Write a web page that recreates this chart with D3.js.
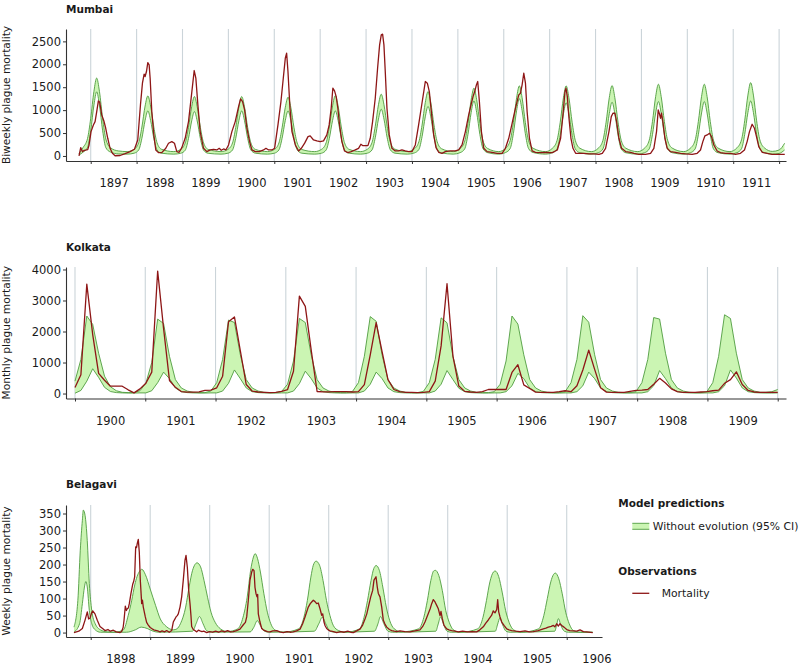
<!DOCTYPE html>
<html><head><meta charset="utf-8">
<script src="https://cdn.jsdelivr.net/npm/d3@7"></script>
<style>body{margin:0;background:#fff} text{font-family:"DejaVu Sans",sans-serif}</style>
</head><body><svg id="c" width="802" height="667"></svg>
<script>
// ---------------- DATA ----------------
// Mumbai: biweekly observed mortality [year, deaths]
const mumbaiObs = [
[1896.745,0],[1896.782,182],[1896.818,95],[1896.862,124],[1896.935,138],[1896.964,240],[1897.007,531],[1897.058,677],[1897.095,750],[1897.131,968],[1897.167,1201],[1897.196,1172],[1897.24,895],[1897.291,750],[1897.327,604],[1897.371,386],[1897.422,167],[1897.473,58],[1897.531,5],[1897.64,10],[1897.749,51],[1897.858,95],[1897.953,146],
[1898.025,349],[1898.084,1114],[1898.127,1587],[1898.164,1784],[1898.185,1733],[1898.215,1842],[1898.244,2038],[1898.273,1987],[1898.295,1696],[1898.331,968],[1898.375,459],[1898.418,131],[1898.476,73],[1898.549,73],[1898.636,167],[1898.695,277],[1898.767,313],[1898.825,277],[1898.876,95],[1898.927,80],[1898.985,182],
[1899.058,386],[1899.131,750],[1899.204,1405],[1899.255,1864],[1899.291,1696],[1899.335,1114],[1899.385,531],[1899.458,167],[1899.531,95],[1899.604,131],[1899.676,146],[1899.749,131],[1899.8,167],[1899.844,124],[1899.895,153],[1899.945,131],
[1900.004,240],[1900.076,531],[1900.149,750],[1900.222,1077],[1900.265,1245],[1900.309,1187],[1900.353,1005],[1900.404,604],[1900.462,313],[1900.513,131],[1900.585,95],[1900.673,95],[1900.767,131],[1900.818,167],[1900.876,131],[1900.949,131],
[1901.007,167],[1901.08,677],[1901.145,1187],[1901.196,1696],[1901.24,2133],[1901.269,2242],[1901.298,1842],[1901.342,1041],[1901.385,531],[1901.458,240],[1901.531,109],[1901.589,167],[1901.662,280],[1901.735,422],[1901.782,437],[1901.855,349],[1901.927,328],
[1902.0,313],[1902.073,328],[1902.145,459],[1902.196,677],[1902.24,1041],[1902.276,1478],[1902.313,1420],[1902.349,1296],[1902.385,1041],[1902.422,677],[1902.473,313],[1902.531,109],[1902.604,73],[1902.676,95],[1902.764,131],[1902.836,167],[1902.887,255],[1902.924,226],[1902.982,226],
[1903.04,226],[1903.091,386],[1903.142,750],[1903.2,1259],[1903.251,1915],[1903.295,2424],[1903.331,2643],[1903.36,2657],[1903.389,2424],[1903.418,1842],[1903.455,1041],[1903.505,459],[1903.564,167],[1903.636,109],[1903.709,109],[1903.782,131],[1903.855,109],[1903.927,95],
[1904.0,95],[1904.073,240],[1904.145,677],[1904.218,1150],[1904.269,1478],[1904.291,1624],[1904.335,1587],[1904.378,1405],[1904.422,968],[1904.473,459],[1904.524,182],[1904.582,80],[1904.655,58],[1904.727,95],[1904.836,109],[1904.945,109],
[1905.018,131],[1905.091,240],[1905.164,531],[1905.236,895],[1905.295,1150],[1905.331,1296],[1905.367,1405],[1905.404,1551],[1905.433,1624],[1905.469,1187],[1905.513,531],[1905.564,167],[1905.636,95],[1905.745,80],[1905.855,58],[1905.964,58],
[1906.036,167],[1906.109,386],[1906.182,713],[1906.255,1041],[1906.327,1332],[1906.364,1369],[1906.4,1551],[1906.436,1805],[1906.473,1587],[1906.509,968],[1906.56,386],[1906.618,109],[1906.691,80],[1906.8,73],[1906.913,80],
[1907.058,73],[1907.167,131],[1907.239,386],[1907.29,895],[1907.334,1405],[1907.356,1478],[1907.385,1296],[1907.421,823],[1907.464,386],[1907.508,167],[1907.566,58],[1907.639,58],[1907.747,58],[1907.856,44],[1907.965,44],
[1908.074,36],[1908.147,58],[1908.219,167],[1908.292,531],[1908.343,859],[1908.379,932],[1908.422,932],[1908.459,750],[1908.509,386],[1908.567,167],[1908.655,95],[1908.763,80],[1908.836,58],[1908.945,36],
[1909.09,36],[1909.199,58],[1909.271,167],[1909.329,531],[1909.366,1005],[1909.395,910],[1909.417,823],[1909.438,932],[1909.467,750],[1909.511,386],[1909.562,167],[1909.634,95],[1909.743,80],[1909.852,58],[1909.961,44],
[1910.106,36],[1910.215,58],[1910.287,131],[1910.338,313],[1910.382,437],[1910.432,459],[1910.483,495],[1910.527,422],[1910.578,240],[1910.65,109],[1910.723,73],[1910.832,58],[1910.941,58],
[1911.049,36],[1911.158,58],[1911.245,131],[1911.303,313],[1911.354,531],[1911.412,692],[1911.463,604],[1911.507,422],[1911.557,204],[1911.63,80],[1911.739,58],[1911.848,36],[1911.993,36],[1912.123,36]
];
// Mumbai model band [year, lower, upper]
const mumbaiBand = [
[1896.745,20,50],[1896.83,80,180],[1896.93,180,380],[1897.0,550,820],[1897.07,1110,1410],[1897.13,1400,1700],[1897.19,1110,1410],[1897.26,550,820],[1897.33,180,370],[1897.43,85,180],[1897.6,45,110],
[1897.795,40,95],[1897.945,60,145],[1898.045,130,290],[1898.115,385,630],[1898.185,775,1090],[1898.245,983,1310],[1898.305,775,1090],[1898.375,385,630],[1898.445,130,290],[1898.545,60,145],
[1898.81,40,95],[1898.96,58,143],[1899.06,126,285],[1899.13,378,620],[1899.20,765,1075],[1899.26,968,1296],[1899.32,765,1075],[1899.39,378,620],[1899.46,126,285],[1899.56,58,143],
[1899.84,40,95],[1899.99,60,143],[1900.09,130,285],[1900.16,385,620],[1900.23,775,1075],[1900.29,983,1296],[1900.35,775,1075],[1900.42,385,620],[1900.49,130,285],[1900.59,60,143],
[1900.85,40,95],[1901.00,60,141],[1901.10,130,282],[1901.17,385,615],[1901.24,775,1063],[1901.30,983,1281],[1901.36,775,1063],[1901.43,385,615],[1901.50,130,282],[1901.60,60,141],
[1901.88,40,95],[1902.03,60,145],[1902.13,130,290],[1902.20,385,633],[1902.27,775,1094],[1902.33,983,1318],[1902.39,775,1094],[1902.46,385,633],[1902.53,130,290],[1902.63,60,145],
[1902.88,40,95],[1903.03,61,148],[1903.13,132,296],[1903.20,397,647],[1903.27,805,1118],[1903.33,1019,1347],[1903.39,805,1118],[1903.46,397,647],[1903.53,132,296],[1903.63,61,148],
[1903.90,40,95],[1904.05,65,155],[1904.15,140,309],[1904.22,421,674],[1904.29,853,1166],[1904.35,1080,1405],[1904.41,853,1166],[1904.48,421,674],[1904.55,140,309],[1904.65,65,155],
[1904.90,40,95],[1905.05,72,163],[1905.15,156,325],[1905.22,468,709],[1905.29,948,1227],[1905.35,1200,1478],[1905.41,948,1227],[1905.48,468,709],[1905.55,156,325],[1905.65,72,163],
[1905.89,40,95],[1906.04,75,168],[1906.14,163,336],[1906.21,488,734],[1906.28,988,1269],[1906.34,1250,1529],[1906.40,988,1269],[1906.47,488,734],[1906.54,163,336],[1906.64,75,168],
[1906.91,40,95],[1907.06,70,168],[1907.16,151,336],[1907.23,452,734],[1907.30,916,1269],[1907.36,1160,1529],[1907.42,916,1269],[1907.49,452,734],[1907.56,151,336],[1907.66,70,168],
[1907.91,40,95],[1908.06,70,169],[1908.16,152,338],[1908.23,457,737],[1908.30,926,1275],[1908.36,1172,1536],[1908.42,926,1275],[1908.49,457,737],[1908.56,152,338],[1908.66,70,169],
[1908.92,40,95],[1909.07,71,172],[1909.17,154,344],[1909.24,463,751],[1909.31,938,1299],[1909.37,1187,1565],[1909.43,938,1299],[1909.50,463,751],[1909.57,154,344],[1909.67,71,172],
[1909.92,40,95],[1910.07,71,172],[1910.17,154,344],[1910.24,463,751],[1910.31,938,1299],[1910.37,1187,1565],[1910.43,938,1299],[1910.50,463,751],[1910.57,154,344],[1910.67,71,172],
[1910.93,40,95],[1911.08,72,176],[1911.18,156,352],[1911.25,468,768],[1911.32,948,1328],[1911.38,1200,1600],[1911.44,948,1328],[1911.51,468,768],[1911.58,156,352],[1911.68,72,176],
[1911.85,40,100],[1912.0,55,130],[1912.12,131,277]
];
const mumbaiTickYears = [1897,1898,1899,1900,1901,1902,1903,1904,1905,1906,1907,1908,1909,1910,1911,1912];
const mumbaiLabelYears = [1897,1898,1899,1900,1901,1902,1903,1904,1905,1906,1907,1908,1909,1910,1911];
const mumbaiYTicks = [0,500,1000,1500,2000,2500];

// Kolkata: monthly values Jan 1900 .. Dec 1909
const kolkataObs = [
195,605,3530,1900,650,430,237,237,237,120,22,150,
330,690,3950,2100,420,200,65,45,45,55,100,110,
185,560,2315,2470,1380,290,80,50,40,30,40,70,
130,720,3140,2810,1400,65,55,55,60,60,60,50,
60,290,1250,2290,1350,450,130,60,40,40,30,40,
60,400,1535,3540,1210,240,70,50,40,60,130,130,
130,130,680,930,280,160,45,40,40,40,60,90,
60,250,760,1400,780,190,45,40,40,40,70,100,
110,130,300,490,340,150,60,40,40,40,50,60,
90,110,330,450,700,290,100,50,40,40,40,40];
const kolkataHi = [
400,1100,2500,2230,1300,560,220,90,40,30,30,90,
330,1000,2400,2260,1200,450,180,80,40,30,30,80,
350,1100,2370,2290,1250,450,180,80,40,30,30,70,
300,1050,2420,2290,1250,450,180,80,40,30,30,70,
350,1200,2480,2330,1250,450,180,80,40,30,30,70,
350,1100,2440,2280,1200,450,180,80,40,30,30,60,
300,1050,2500,2240,1250,450,180,80,40,30,30,60,
350,1100,2510,2300,1250,450,180,80,40,30,30,60,
350,1100,2450,2400,1300,450,180,80,40,30,30,60,
350,1200,2540,2420,1300,450,180,80,40,40,60,130];
const kolkataLo = [
10,100,400,800,520,200,65,30,20,15,15,20,
20,90,350,690,480,180,60,30,20,15,15,20,
20,80,330,760,480,180,60,30,20,15,15,20,
20,80,320,720,480,180,60,30,20,15,15,20,
20,80,300,690,480,180,60,30,20,15,15,20,
20,80,300,740,450,170,60,30,20,15,15,20,
20,60,250,650,480,180,60,30,20,15,15,20,
20,60,250,690,480,180,60,30,20,15,15,20,
20,60,250,740,480,180,60,30,20,15,15,20,
20,60,250,760,500,180,60,30,20,15,15,20];
const kolkataSpan = [1900, 1910];
const kolkataTickYears = [1900,1901,1902,1903,1904,1905,1906,1907,1908,1909,1910];
const kolkataLabelYears = [1900,1901,1902,1903,1904,1905,1906,1907,1908,1909];
const kolkataYTicks = [0,1000,2000,3000,4000];

// Belagavi: weekly observed mortality [year, deaths]
const belagaviObs = [
[1897.719,0],[1897.80,4],[1897.86,12],[1897.904,36],[1897.943,61],[1897.965,40],[1897.988,42],[1898.01,55],[1898.034,64],[1898.072,55],[1898.111,36],[1898.156,18],[1898.20,12],[1898.24,6],[1898.29,9],[1898.33,4],[1898.38,7],[1898.43,2],[1898.494,0],
[1898.52,3],[1898.545,15],[1898.56,36],[1898.582,78],[1898.60,65],[1898.615,70],[1898.632,72],[1898.649,85],[1898.677,115],[1898.706,142],[1898.722,150],[1898.739,164],[1898.756,252],[1898.77,250],[1898.783,262],[1898.8,274],[1898.817,236],[1898.834,154],[1898.857,85],[1898.87,95],[1898.884,75],[1898.918,46],[1898.94,30],[1898.968,22],[1899.0,15],[1899.025,12],[1899.06,8],[1899.109,6],[1899.14,4],[1899.165,2],[1899.2,5],[1899.24,2],[1899.277,6],[1899.32,1],
[1899.361,6],[1899.388,31],[1899.41,38],[1899.434,46],[1899.455,50],[1899.472,55],[1899.501,75],[1899.529,105],[1899.556,154],[1899.585,213],[1899.602,227],[1899.624,192],[1899.647,124],[1899.669,85],[1899.685,50],[1899.697,18],[1899.724,9],[1899.75,6],[1899.782,2],[1899.81,7],[1899.837,5],[1899.87,3],[1899.9,4],[1899.95,0],[1900.0,3],[1900.05,1],[1900.1,4],[1900.15,1],[1900.2,5],[1900.25,2],[1900.3,6],[1900.35,2],
[1900.397,3],[1900.45,6],[1900.509,10],[1900.565,23],[1900.60,30],[1900.622,46],[1900.649,95],[1900.677,154],[1900.706,178],[1900.723,186],[1900.745,182],[1900.761,133],[1900.778,115],[1900.795,105],[1900.806,112],[1900.817,55],[1900.845,31],[1900.874,12],[1900.9,8],[1900.929,6],[1900.97,3],[1901.013,2],[1901.06,5],[1901.126,6],[1901.18,2],[1901.237,0],[1901.3,3],[1901.35,1],
[1901.405,2],[1901.46,5],[1901.518,10],[1901.56,25],[1901.602,46],[1901.657,75],[1901.69,85],[1901.714,90],[1901.741,95],[1901.77,91],[1901.798,85],[1901.825,87],[1901.854,70],[1901.882,51],[1901.899,55],[1901.921,31],[1901.94,20],[1901.966,12],[1902.0,7],[1902.022,5],[1902.08,3],[1902.134,0],[1902.2,3],[1902.26,1],[1902.32,4],[1902.37,1],
[1902.413,0],[1902.47,5],[1902.526,10],[1902.57,22],[1902.61,40],[1902.64,55],[1902.666,75],[1902.706,105],[1902.739,124],[1902.761,154],[1902.795,164],[1902.817,133],[1902.834,115],[1902.862,105],[1902.891,75],[1902.918,36],[1902.945,25],[1902.975,16],[1903.02,9],[1903.059,6],[1903.1,4],[1903.143,3],
[1903.198,5],[1903.28,3],[1903.366,2],[1903.45,5],[1903.534,8],[1903.58,18],[1903.618,31],[1903.674,56],[1903.705,70],[1903.731,85],[1903.758,97],[1903.787,90],[1903.815,80],[1903.842,70],[1903.871,50],[1903.887,62],[1903.909,41],[1903.938,21],[1903.983,11],[1904.02,8],[1904.067,6],[1904.12,4],[1904.178,2],[1904.25,4],[1904.33,2],[1904.41,3],
[1904.487,2],[1904.54,8],[1904.598,17],[1904.64,28],[1904.682,37],[1904.739,51],[1904.766,64],[1904.795,58],[1904.824,68],[1904.84,97],[1904.857,61],[1904.879,46],[1904.908,31],[1904.946,21],[1904.992,11],[1905.03,8],[1905.076,6],[1905.14,4],[1905.215,3],[1905.3,5],[1905.37,2],
[1905.439,3],[1905.52,6],[1905.607,11],[1905.65,13],[1905.691,16],[1905.74,18],[1905.775,21],[1905.8,17],[1905.832,26],[1905.859,19],[1905.887,26],[1905.916,21],[1905.954,16],[1906.0,9],[1906.05,6],[1906.111,5],[1906.17,4],[1906.224,8],[1906.28,3],[1906.336,2],[1906.437,0]
];
// Belagavi model band, upper and lower 95% limits [year, deaths]
const belagaviHi = [
[1897.719,16],[1897.784,94],[1897.825,242],[1897.86,330],[1897.876,360],[1897.905,345],[1897.942,271],[1897.977,144],[1898.018,65],[1898.076,26],[1898.164,8],[1898.281,2],[1898.4,1],
[1898.55,8],[1898.63,50],[1898.69,95],[1898.74,140],[1898.78,165],[1898.82,180],[1898.86,186],[1898.92,170],[1899.0,128],[1899.09,80],[1899.17,40],[1899.27,18],[1899.39,8],
[1899.449,11],[1899.508,26],[1899.596,75],[1899.654,134],[1899.712,183],[1899.788,205],[1899.847,193],[1899.905,153],[1899.964,104],[1900.022,60],[1900.092,30],[1900.18,11],[1900.297,3],
[1900.472,11],[1900.56,45],[1900.63,104],[1900.688,183],[1900.735,222],[1900.764,232],[1900.805,217],[1900.852,178],[1900.911,114],[1900.969,60],[1901.027,26],[1901.115,6],[1901.232,1],
[1901.495,11],[1901.583,45],[1901.641,94],[1901.7,163],[1901.741,198],[1901.787,210],[1901.846,198],[1901.905,153],[1901.963,94],[1902.021,50],[1902.08,20],[1902.167,6],[1902.284,1],
[1902.518,11],[1902.594,45],[1902.652,94],[1902.711,153],[1902.757,188],[1902.798,197],[1902.851,183],[1902.909,134],[1902.968,75],[1903.026,35],[1903.102,11],[1903.219,2],
[1903.511,11],[1903.599,45],[1903.658,94],[1903.716,153],[1903.763,181],[1903.792,183],[1903.85,168],[1903.909,124],[1903.967,65],[1904.026,30],[1904.096,8],[1904.213,1],
[1904.505,11],[1904.593,45],[1904.651,94],[1904.709,149],[1904.768,178],[1904.797,181],[1904.856,165],[1904.915,119],[1904.973,65],[1905.032,30],[1905.107,8],[1905.236,1],
[1905.528,11],[1905.615,50],[1905.674,100],[1905.732,149],[1905.779,171],[1905.808,175],[1905.867,158],[1905.925,114],[1905.983,60],[1906.042,26],[1906.112,6],[1906.229,1],[1906.437,1]
];
const belagaviLo = [
[1897.719,1],[1897.813,26],[1897.86,85],[1897.895,134],[1897.918,150],[1897.942,134],[1897.977,65],[1898.018,26],[1898.076,8],[1898.164,1],
[1898.6,1],[1898.75,8],[1898.85,16],[1898.95,12],[1899.05,4],[1899.15,1],
[1899.712,4],[1899.771,26],[1899.829,47],[1899.888,26],[1899.946,6],[1900.034,1],
[1900.68,2],[1900.74,15],[1900.80,35],[1900.86,18],[1900.92,4],[1901.0,1],
[1901.758,4],[1901.834,26],[1901.892,45],[1901.951,26],[1902.021,4],[1902.109,1],
[1902.769,4],[1902.828,26],[1902.869,47],[1902.927,26],[1902.997,4],[1903.073,1],
[1903.80,4],[1903.84,25],[1903.88,46],[1903.93,24],[1903.99,4],[1904.06,1],
[1904.80,4],[1904.84,25],[1904.875,42],[1904.92,24],[1904.98,4],[1905.05,1],
[1905.80,4],[1905.83,22],[1905.86,41],[1905.90,22],[1905.96,4],[1906.03,1],[1906.437,1]
];
const belagaviTickYears = [1898,1899,1900,1901,1902,1903,1904,1905,1906];
const belagaviLabelYears = [1898,1899,1900,1901,1902,1903,1904,1905,1906];
const belagaviYTicks = [0,50,100,150,200,250,300,350];

// ---------------- DRAWING ----------------
const RED = "#8e1616", GSTROKE = "#4f9c3f", GFILL = "#cbf5b3", GRID = "#cbd4d9", AX = "#333333", TXT = "#1a1a1a";
const svg = d3.select("#c");

function drawPanel(o) {
  const x = d3.scaleLinear().domain(o.xDomain).range(o.xRange);
  const y = d3.scaleLinear().domain(o.yDomain).range(o.yRange);
  const top = o.yRange[1], bottom = o.yRange[0];
  const g = svg.append("g");
  // grid
  g.append("g").selectAll("line").data(o.ticks).join("line")
    .attr("x1", d => x(d)).attr("x2", d => x(d)).attr("y1", top).attr("y2", bottom)
    .attr("stroke", GRID).attr("stroke-width", 1.1);
  // band (fill between lower and upper via clip)
  const cid = "clip-" + o.id;
  g.append("clipPath").attr("id", cid).append("path")
    .attr("d", d3.area().x(d => x(d[0])).y0(top - 10).y1(d => y(d[1])).curve(o.curve)(o.lo));
  g.append("path").attr("clip-path", `url(#${cid})`)
    .attr("d", d3.area().x(d => x(d[0])).y0(y(0)).y1(d => y(d[1])).curve(o.curve)(o.hi))
    .attr("fill", GFILL);
  const gl = d3.line().x(d => x(d[0])).y(d => y(d[1])).curve(o.curve);
  [o.hi, o.lo].forEach(s => g.append("path").attr("d", gl(s)).attr("fill", "none")
    .attr("stroke", GSTROKE).attr("stroke-width", 0.9));
  // observations
  g.append("path").attr("d", d3.line().x(d => x(d[0])).y(d => y(d[1]))(o.obs))
    .attr("fill", "none").attr("stroke", RED).attr("stroke-width", 1.3).attr("stroke-linejoin", "round");
  // axes
  const ya = g.append("g").attr("transform", `translate(${o.xRange[0]},0)`)
    .call(d3.axisLeft(y).tickValues(o.yTicks).tickSize(3).tickSizeOuter(0).tickPadding(2).tickFormat(d3.format("d")));
  const xa = g.append("g").attr("transform", `translate(0,${bottom})`)
    .call(d3.axisBottom(x).tickValues(o.ticks).tickSize(3).tickSizeOuter(0).tickFormat(""));
  const xl = g.append("g").attr("transform", `translate(0,${bottom})`)
    .call(d3.axisBottom(x).tickValues(o.labels.map(d => d + 0.5)).tickSize(0).tickPadding(18)
      .tickFormat(d => String(Math.floor(d))));
  xl.select(".domain").remove();
  [ya, xa, xl].forEach(a => {
    a.attr("font-family", null).attr("font-size", null);
    a.selectAll(".domain").attr("stroke", AX).attr("stroke-width", 1.1);
    a.selectAll(".tick line").attr("stroke", AX).attr("stroke-width", 1);
    a.selectAll("text").attr("fill", TXT).style("font-size", "11.5px").style("font-family", "'DejaVu Sans',sans-serif");
  });
  // title
  g.append("text").attr("x", o.xRange[0]).attr("y", o.titleY).text(o.title)
    .style("font-weight", "bold").style("font-size", "10.5px").attr("fill", TXT);
  // y label
  g.append("text").attr("transform", `translate(10,${(top + bottom) / 2}) rotate(-90)`)
    .attr("text-anchor", "middle").text(o.ylab).style("font-size", "10.6px").attr("fill", TXT);
}

drawPanel({
  id: "mum", title: "Mumbai", ylab: "Biweekly plague mortality", titleY: 13,
  xDomain: [1896.4615, 1912.15], xRange: [66, 786],
  yDomain: [-110, 2770], yRange: [161, 29],
  ticks: mumbaiTickYears, labels: mumbaiLabelYears, yTicks: mumbaiYTicks,
  obs: mumbaiObs,
  hi: mumbaiBand.map(d => [d[0], d[2]]), lo: mumbaiBand.map(d => [d[0], d[1]]),
  curve: d3.curveMonotoneX
});

const kolT = i => kolkataSpan[0] + i * (kolkataSpan[1] - kolkataSpan[0]) / (kolkataObs.length - 1);
drawPanel({
  id: "kol", title: "Kolkata", ylab: "Monthly plague mortality", titleY: 250.7,
  xDomain: [1899.872, 1910.118], xRange: [66, 786],
  yDomain: [-160, 4080], yRange: [398.5, 267],
  ticks: kolkataTickYears, labels: kolkataLabelYears, yTicks: kolkataYTicks,
  obs: kolkataObs.map((v, i) => [kolT(i), v]),
  hi: kolkataHi.map((v, i) => [kolT(i), v]), lo: kolkataLo.map((v, i) => [kolT(i), v]),
  curve: d3.curveLinear
});

drawPanel({
  id: "bel", title: "Belagavi", ylab: "Weekly plague mortality", titleY: 488.3,
  xDomain: [1897.585, 1906.593], xRange: [66, 602],
  yDomain: [-13, 375], yRange: [637, 505],
  ticks: belagaviTickYears, labels: belagaviLabelYears, yTicks: belagaviYTicks,
  obs: belagaviObs, hi: belagaviHi, lo: belagaviLo,
  curve: d3.curveMonotoneX
});

// legend
const lg = svg.append("g");
lg.append("text").attr("x", 618.3).attr("y", 506.7).text("Model predictions")
  .style("font-weight", "bold").style("font-size", "10.5px").attr("fill", TXT);
lg.append("rect").attr("x", 632.3).attr("y", 523.3).attr("width", 17).attr("height", 6).attr("fill", GFILL);
[523.3, 529.3].forEach(yy => lg.append("line").attr("x1", 632.3).attr("x2", 649.3).attr("y1", yy).attr("y2", yy)
  .attr("stroke", GSTROKE).attr("stroke-width", 0.9));
lg.append("text").attr("x", 652.7).attr("y", 530).text("Without evolution (95% CI)")
  .style("font-size", "10.8px").attr("fill", TXT);
lg.append("text").attr("x", 618.3).attr("y", 575).text("Observations")
  .style("font-weight", "bold").style("font-size", "10.5px").attr("fill", TXT);
lg.append("line").attr("x1", 632.3).attr("x2", 649.3).attr("y1", 593.3).attr("y2", 593.3)
  .attr("stroke", RED).attr("stroke-width", 1.3);
lg.append("text").attr("x", 661.7).attr("y", 597).text("Mortality")
  .style("font-size", "10.8px").attr("fill", TXT);
</script></body></html>
